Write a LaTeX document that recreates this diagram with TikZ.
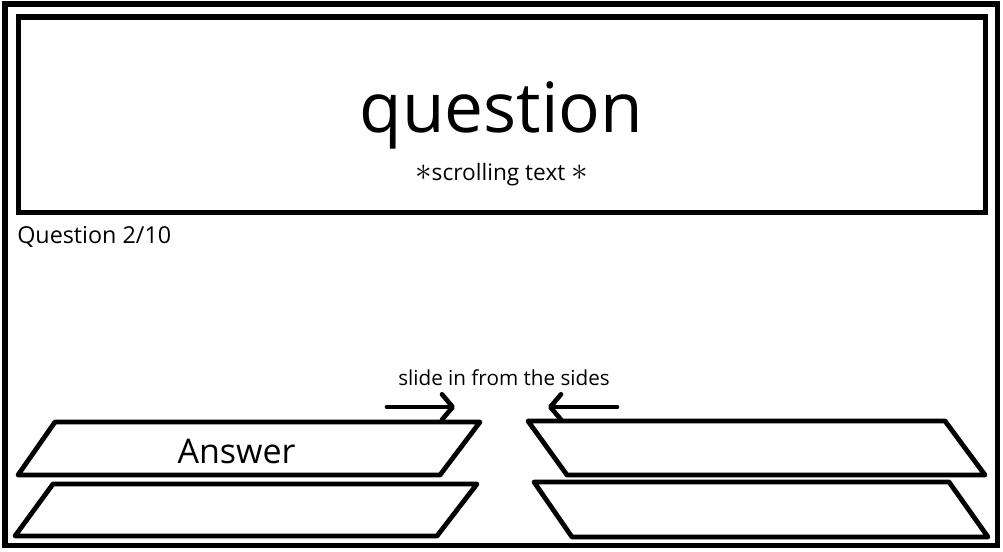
\documentclass[tikz,border=0pt]{standalone}
\usepackage{fontspec}
\setmainfont{Open Sans}
\usetikzlibrary{arrows.meta}

\begin{document}
\begin{tikzpicture}[
    x=0.75pt, y=-0.75pt,
    frame/.style={line width=3.8pt},
    answerbox/.style={line width=3.6pt,line join=round,line cap=round},
    slidearrow/.style={line width=3.5pt,line cap=round,
        -{Straight Barb[length=8pt,width=19pt,round]}},
    every node/.style={inner sep=0pt,anchor=base}]
    \useasboundingbox (0,0) rectangle (1003,552);

    % Marco exterior y cuadro de la pregunta.
    \draw[frame] (5,4) rectangle (997.5,545.5);
    \draw[frame] (18.5,17) rectangle (985.5,212.5);
    \node[font=\fontsize{52}{60}\selectfont] (question) at (501.5,133) {question};
    \node[font=\fontsize{17}{20}\selectfont] (scroll) at (501.5,181)
        {{\fontsize{25}{25}\selectfont$\ast$}scrolling text {\fontsize{25}{25}\selectfont$\ast$}};
    \node[font=\fontsize{17.5}{21}\selectfont,anchor=base west] (counter) at (17,244)
        {Question 2/10};

    % Respuestas que entran desde los lados.
    \draw[answerbox] (55,422) -- (480,422) -- (440,475) -- (18,475) -- cycle;
    \draw[answerbox] (53,484) -- (477,484) -- (437,536) -- (15,536) -- cycle;
    \draw[answerbox] (528,421) -- (945,421) -- (985,475) -- (567,475) -- cycle;
    \draw[answerbox] (534,482) -- (949,482) -- (988,537) -- (572,537) -- cycle;
    \node[font=\fontsize{25.5}{30}\selectfont] (answer) at (236.5,463) {Answer};

    % Flechas y etiqueta.
    \node[font=\fontsize{15.5}{19}\selectfont] (slide) at (504,385)
        {slide in from the sides};
    \coordinate (la) at (387,407);
    \coordinate (lb) at (455,407);
    \coordinate (ra) at (617,407);
    \coordinate (rb) at (548,407);
    \draw[slidearrow] (la) -- (lb);
    \draw[slidearrow] (ra) -- (rb);
\end{tikzpicture}
\end{document}
